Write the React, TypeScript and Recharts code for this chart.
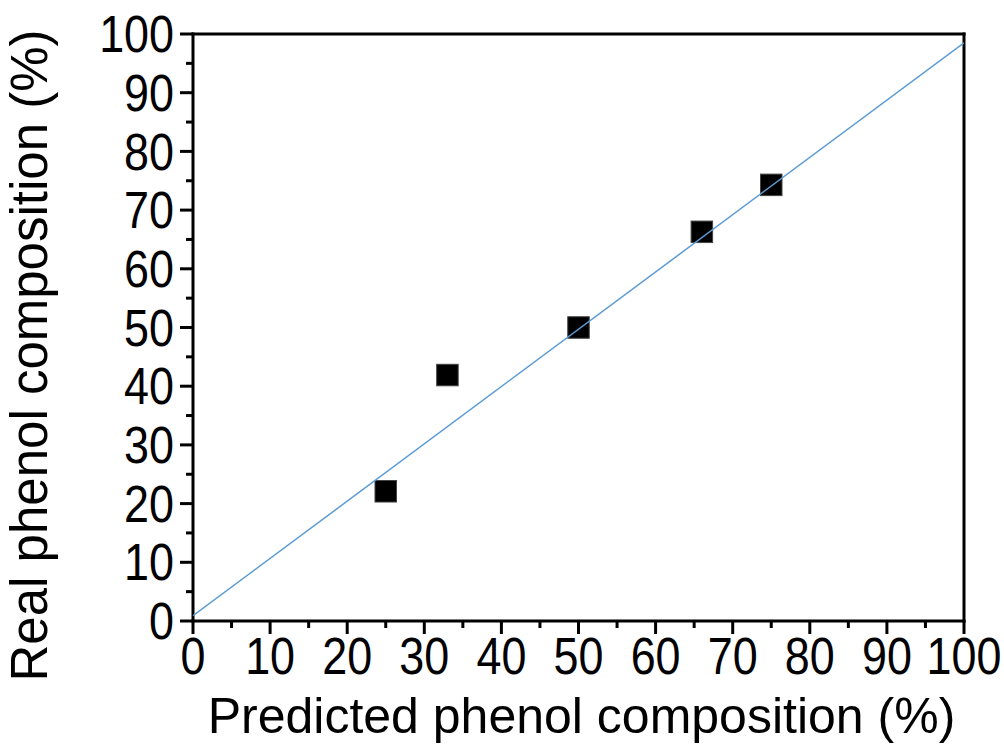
import React from 'react';
import { ScatterChart, Scatter, XAxis, YAxis, Label } from 'recharts';

// ---- data ----
const predicted = [25, 33, 50, 66, 75];
const real = [22.1, 41.9, 50, 66.3, 74.3];
const fitX = [0, 100];
const fitY = [0.9, 98.5];
const allTicks = [0, 5, 10, 15, 20, 25, 30, 35, 40, 45, 50, 55, 60, 65, 70, 75, 80, 85, 90, 95, 100];
const majorTicks = [0, 10, 20, 30, 40, 50, 60, 70, 80, 90, 100];
const xTitle = 'Predicted phenol composition (%)';
const yTitle = 'Real phenol composition (%)';

const points = predicted.map((x, i) => ({ x, y: real[i] }));
const fitLine = fitX.map((x, i) => ({ x, y: fitY[i] }));

const FONT = '"Liberation Sans", Arial, Helvetica, sans-serif';
const LINE = { stroke: '#000', strokeWidth: 3, strokeLinecap: 'square' as const };
const TS = 13; // tick size
const XM = 4; // x tick margin
const YM = 6; // y tick margin
const isMajor = (v: number) => majorTicks.includes(v);

const YTick = (props: any) => {
  const { x, y, payload } = props;
  const ax = x + TS + YM;
  const len = isMajor(payload.value) ? 13 : 7;
  return (
    <g>
      <line x1={ax} y1={y} x2={ax - len} y2={y} stroke="#000" strokeWidth={3} />
      {isMajor(payload.value) && (
        <g transform={`translate(${x},${y})`}>
          <text transform="scale(0.88,1)" textAnchor="end" dy="0.355em" fontSize={51} fontFamily={FONT} fill="#000">
            {payload.value}
          </text>
        </g>
      )}
    </g>
  );
};

const XTick = (props: any) => {
  const { x, y, payload } = props;
  const ay = y - TS - XM;
  const len = isMajor(payload.value) ? 13 : 7;
  return (
    <g>
      <line x1={x} y1={ay} x2={x} y2={ay + len} stroke="#000" strokeWidth={3} />
      {isMajor(payload.value) && (
        <g transform={`translate(${x},${y})`}>
          <text transform="scale(0.88,1)" textAnchor="middle" dy="0.71em" fontSize={51} fontFamily={FONT} fill="#000">
            {payload.value}
          </text>
        </g>
      )}
    </g>
  );
};

const XTitle = (props: any) => {
  const vb = props.viewBox;
  return (
    <text x={vb.x + vb.width / 2 + 3} y={vb.y + vb.height - 11} textAnchor="middle" fontSize={50} fontFamily={FONT} fill="#000">
      {xTitle}
    </text>
  );
};

const YTitle = (props: any) => {
  const vb = props.viewBox;
  const cx = vb.x + 47;
  const cy = vb.y + vb.height / 2 + 28;
  return (
    <text x={cx} y={cy} transform={`rotate(-90, ${cx}, ${cy})`} textAnchor="middle" fontSize={51} fontFamily={FONT} fill="#000">
      {yTitle}
    </text>
  );
};

const SquareMark = (props: any) => {
  const { cx, cy } = props;
  const s = 21.5;
  return <rect x={cx - s / 2} y={cy - s / 2} width={s} height={s} fill="#000" stroke="#444" strokeWidth={1} />;
};

const Nothing = () => null;

export default function App() {
  return (
    <div style={{ position: 'absolute', left: 0, top: 0, width: 1004, height: 744, background: '#fff' }}>
      <ScatterChart width={1004} height={744} margin={{ top: 33, right: 39, left: 0, bottom: 0 }}>
        <XAxis xAxisId="top" orientation="top" type="number" dataKey="x" domain={[0, 100]} ticks={allTicks} height={1}
          axisLine={LINE} tick={false} tickSize={3} tickLine={LINE} interval={0} allowDataOverflow />
        <YAxis yAxisId="right" orientation="right" type="number" dataKey="y" domain={[0, 100]} ticks={allTicks} width={1}
          axisLine={LINE} tick={false} tickSize={3} tickLine={LINE} interval={0} allowDataOverflow />
        <XAxis xAxisId="main" type="number" dataKey="x" domain={[0, 100]} ticks={allTicks} height={123}
          axisLine={LINE} tickLine={false} tickSize={TS} tickMargin={XM} tick={<XTick />} interval={0} allowDataOverflow>
          <Label content={<XTitle />} />
        </XAxis>
        <YAxis yAxisId="main" type="number" dataKey="y" domain={[0, 100]} ticks={allTicks} width={193}
          axisLine={LINE} tickLine={false} tickSize={TS} tickMargin={YM} tick={<YTick />} interval={0} allowDataOverflow>
          <Label content={<YTitle />} />
        </YAxis>
        {/* invisible series binding the frame axes */}
        <Scatter data={points} xAxisId="top" yAxisId="right" shape={<Nothing />} isAnimationActive={false} />
        <Scatter data={points} xAxisId="main" yAxisId="main" shape={<SquareMark />} fill="#000" isAnimationActive={false} />
        <Scatter data={fitLine} xAxisId="main" yAxisId="main" line={{ stroke: '#5b9bd5', strokeWidth: 1.5 }}
          lineType="joint" shape={<Nothing />} fill="none" isAnimationActive={false} />
      </ScatterChart>
    </div>
  );
}
